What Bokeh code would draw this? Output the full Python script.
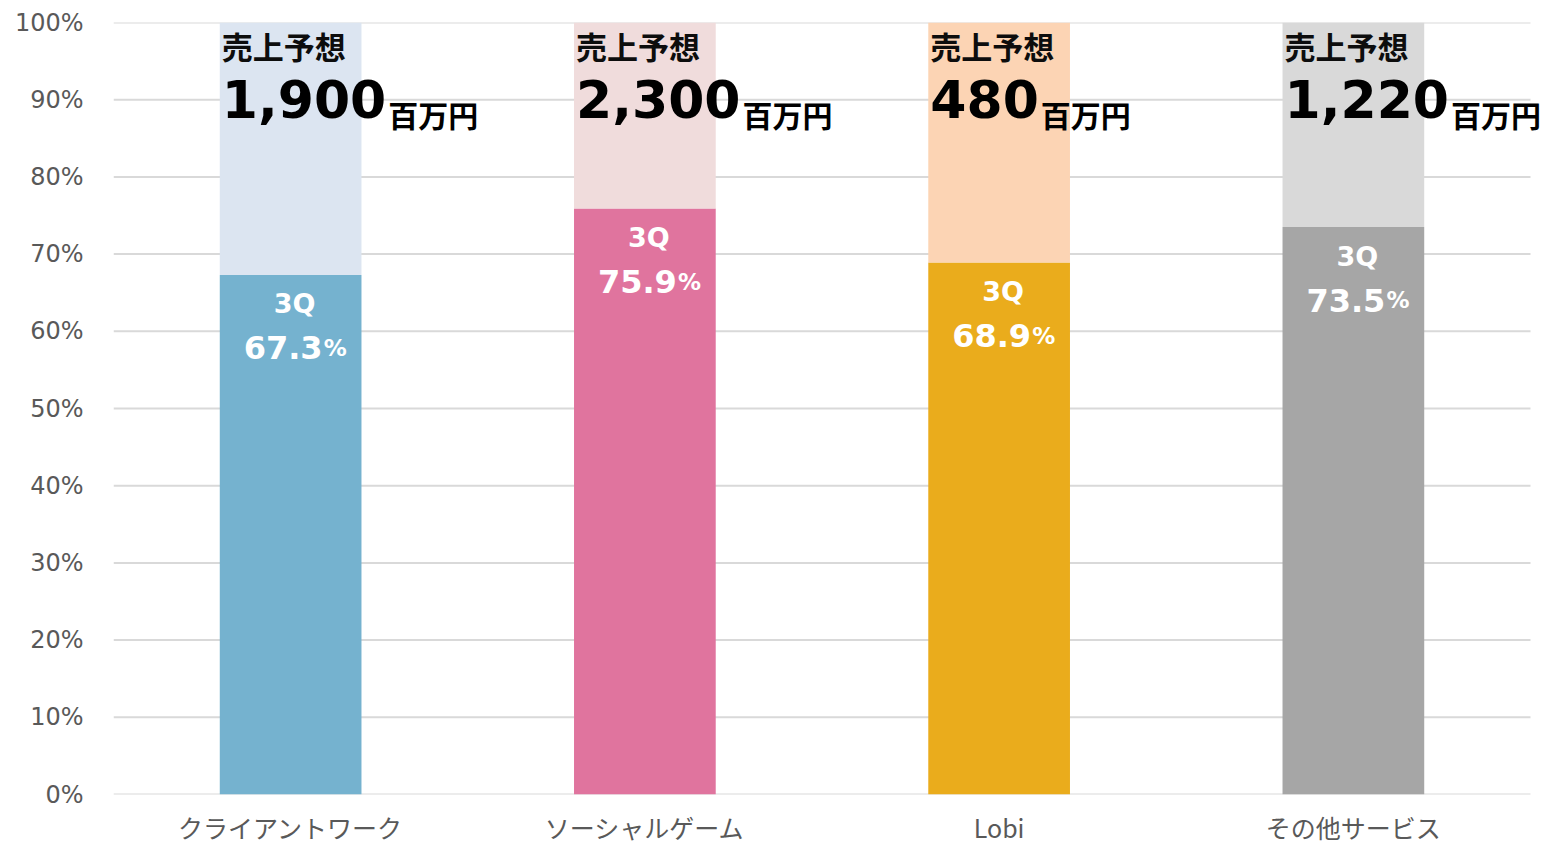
from bokeh.plotting import figure
from bokeh.models import ColumnDataSource, Range1d, FixedTicker, Label
from bokeh.embed import file_html
from bokeh.resources import INLINE

# ---- data ----
categories = ["クライアントワーク", "ソーシャルゲーム", "Lobi", "その他サービス"]
progress = [67.3, 75.9, 68.9, 73.5]          # 3Q achievement (%)
forecast = ["1,900", "2,300", "480", "1,220"]  # sales forecast (million yen)
lower_colors = ["#75B2CF", "#E0749E", "#EAAC1C", "#A6A6A6"]
upper_colors = ["#DCE5F1", "#F0DCDC", "#FCD4B4", "#D9D9D9"]
y_ticks = [0, 10, 20, 30, 40, 50, 60, 70, 80, 90, 100]
y_tick_labels = [f"{t}%" for t in y_ticks]

n = len(categories)
xs = [i + 0.5 for i in range(n)]          # category slot centres
rest = [100 - v for v in progress]

UNIT_PX = 354.25                # pixels per category slot
BAR_W = 0.4
BAR_PX = UNIT_PX * BAR_W
NUM_SIZE = 52
char_w = {",": 0.381}
num_w = [sum(char_w.get(ch, 0.696) for ch in fc) * NUM_SIZE for fc in forecast]
left = -BAR_PX / 2 + 2

src = ColumnDataSource(dict(
    x=xs, prog=progress, rest=rest, full=[100] * n,
    lc=lower_colors, uc=upper_colors,
))
grid_src = ColumnDataSource(dict(y=y_ticks, x0=[0] * len(y_ticks),
                                 x1=[n] * len(y_ticks)))

# a little extra room on the right so the last label is not clipped
p = figure(width=1551, height=847, x_range=Range1d(0, n + 16 / UNIT_PX),
           y_range=Range1d(0, 100), output_backend="svg", toolbar_location=None,
           min_border_left=113, min_border_right=5, min_border_top=22,
           min_border_bottom=53)
p.outline_line_color = None
p.background_fill_color = "white"
p.border_fill_color = "white"
p.xgrid.grid_line_color = None
p.ygrid.grid_line_color = None

# grid lines (incl. baseline)
p.segment(x0="x0", x1="x1", y0="y", y1="y", line_color="#D9D9D9",
          line_width=2, source=grid_src)

p.vbar(x="x", top="prog", bottom=0, width=BAR_W, fill_color="lc",
       line_color=None, source=src)
p.vbar(x="x", top="full", bottom="prog", width=BAR_W, fill_color="uc",
       line_color=None, source=src)

# y axis
p.yaxis.ticker = FixedTicker(ticks=y_ticks)
p.yaxis.major_label_overrides = {t: l for t, l in zip(y_ticks, y_tick_labels)}
p.yaxis.axis_line_color = None
p.yaxis.major_tick_line_color = None
p.yaxis.minor_tick_line_color = None
p.yaxis.major_label_text_font = "DejaVu Sans"
p.yaxis.major_label_text_font_size = "24px"
p.yaxis.major_label_text_color = "#595959"
p.yaxis.major_label_standoff = 24

# x axis
p.xaxis.ticker = FixedTicker(ticks=xs)
p.xaxis.major_label_overrides = {x: c for x, c in zip(xs, categories)}
p.xaxis.axis_line_color = None
p.xaxis.major_tick_line_color = None
p.xaxis.minor_tick_line_color = None
p.xaxis.major_label_text_font = "Noto Sans CJK JP"
p.xaxis.major_label_text_font_size = "25px"
p.xaxis.major_label_text_color = "#595959"
p.xaxis.major_label_standoff = 8


def lab(xc, yv, dx, dy, text, font, size, color, align):
    p.add_layout(Label(x=xc, y=yv, x_offset=dx, y_offset=dy, text=text,
                       text_font=font, text_font_style="bold",
                       text_font_size=f"{size}px", text_color=color,
                       text_align=align, text_baseline="alphabetic"))


for xc, v, fc, w in zip(xs, progress, forecast, num_w):
    lab(xc, 100, left, -23, "売上予想", "Noto Sans CJK JP", 31, "#0D0D0D", "left")
    lab(xc, 100, left, -76, fc, "DejaVu Sans", NUM_SIZE, "#000000", "left")
    lab(xc, 100, left + w + 2, -91, "百万円", "Noto Sans CJK JP", 30, "#000000", "left")
    lab(xc, v, 4, -29, "3Q", "DejaVu Sans", 27, "white", "center")
    lab(xc, v, 32, -73, f"{v}", "DejaVu Sans", 32, "white", "right")
    lab(xc, v, 33, -73, "%", "DejaVu Sans", 23, "white", "left")

open("out.html", "w").write(file_html(p, INLINE))
